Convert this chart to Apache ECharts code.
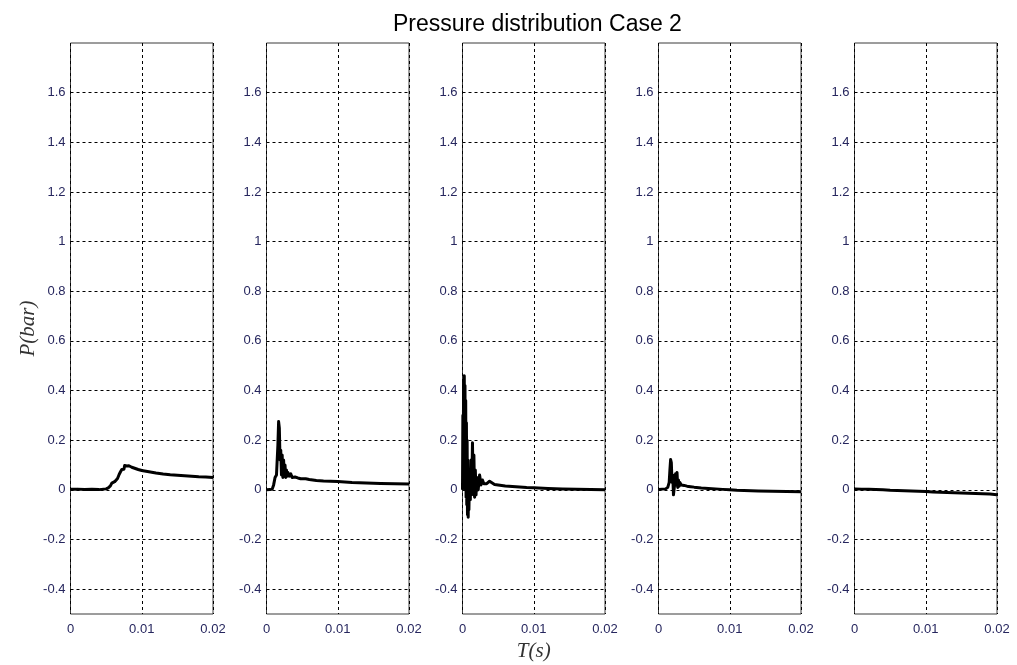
<!DOCTYPE html>
<html>
<head>
<meta charset="utf-8">
<title>Pressure distribution Case 2</title>
<script src="https://cdn.jsdelivr.net/npm/echarts@6/dist/echarts.min.js"></script>
<style>
  html, body { margin: 0; padding: 0; background: #fff; }
  #chart { width: 1017px; height: 665px; }
</style>
</head>
<body>
<div id="chart"></div>
<script>
// Pressure traces P(bar) against time T(s) for five gauges
const yTicks = [-0.4, -0.2, 0, 0.2, 0.4, 0.6, 0.8, 1, 1.2, 1.4, 1.6];
const xTicks = [0, 0.01, 0.02];

const t1 = [0, 0.001, 0.002, 0.003, 0.004, 0.005, 0.0053, 0.0056, 0.0058, 0.006, 0.0062, 0.0064, 0.0066, 0.0068, 0.007, 0.0072, 0.0073, 0.0074, 0.0075, 0.0076, 0.0077, 0.0078, 0.0079, 0.008, 0.0082, 0.0084, 0.0086, 0.0088, 0.009, 0.0095, 0.01, 0.011, 0.012, 0.013, 0.014, 0.015, 0.016, 0.017, 0.018, 0.019, 0.02];
const p1 = [0.002, 0.003, 0.001, 0.002, 0.001, 0.004, 0.008, 0.016, 0.027, 0.031, 0.033, 0.038, 0.046, 0.06, 0.072, 0.082, 0.075, 0.09, 0.083, 0.098, 0.092, 0.104, 0.096, 0.1, 0.097, 0.094, 0.091, 0.089, 0.087, 0.082, 0.078, 0.073, 0.068, 0.064, 0.061, 0.059, 0.057, 0.055, 0.053, 0.052, 0.05];

const t2 = [0, 0.0005, 0.0008, 0.001, 0.0012, 0.0014, 0.0016, 0.0017, 0.0018, 0.0019, 0.002, 0.0021, 0.0022, 0.0023, 0.0024, 0.0025, 0.0026, 0.0027, 0.0028, 0.0029, 0.003, 0.0032, 0.0034, 0.0036, 0.0038, 0.004, 0.0042, 0.0044, 0.0046, 0.0048, 0.005, 0.0055, 0.006, 0.007, 0.008, 0.009, 0.01, 0.011, 0.012, 0.014, 0.016, 0.018, 0.02];
const p2 = [0, 0.001, 0.003, 0.02, 0.05, 0.06, 0.18, 0.275, 0.25, 0.12, 0.16, 0.06, 0.14, 0.05, 0.12, 0.06, 0.1, 0.05, 0.08, 0.055, 0.07, 0.055, 0.065, 0.05, 0.058, 0.052, 0.06, 0.048, 0.055, 0.045, 0.05, 0.045, 0.042, 0.038, 0.036, 0.035, 0.034, 0.032, 0.03, 0.028, 0.026, 0.025, 0.024];

const t3 = [0, 0.00005, 0.0001, 0.00015, 0.0002, 0.00025, 0.0003, 0.00035, 0.0004, 0.00045, 0.0005, 0.00055, 0.0006, 0.00065, 0.0007, 0.00075, 0.0008, 0.00085, 0.0009, 0.001, 0.0011, 0.0012, 0.0013, 0.0014, 0.0015, 0.0016, 0.0017, 0.0018, 0.0019, 0.002, 0.0022, 0.0024, 0.0026, 0.0028, 0.003, 0.0032, 0.0034, 0.0036, 0.0038, 0.004, 0.0045, 0.005, 0.006, 0.007, 0.008, 0.009, 0.01, 0.012, 0.014, 0.016, 0.018, 0.02];
const p3 = [0, 0.3, 0.02, 0.44, 0.04, 0.46, 0.06, 0.42, 0, 0.36, -0.03, 0.27, -0.06, 0.2, -0.1, 0.12, -0.11, 0.06, -0.08, 0.08, -0.04, 0.12, 0, 0.19, -0.02, 0.14, -0.03, 0.08, -0.02, 0.05, 0, 0.06, 0.02, 0.04, 0.025, 0.03, 0.025, 0.028, 0.035, 0.03, 0.022, 0.02, 0.016, 0.014, 0.012, 0.01, 0.009, 0.006, 0.004, 0.002, 0.001, 0];

const t4 = [0, 0.0005, 0.001, 0.0013, 0.0015, 0.0016, 0.0017, 0.0018, 0.0019, 0.002, 0.0021, 0.0022, 0.0023, 0.0024, 0.0025, 0.0026, 0.0027, 0.0028, 0.0029, 0.003, 0.0032, 0.0034, 0.0036, 0.0038, 0.004, 0.0045, 0.005, 0.006, 0.007, 0.008, 0.009, 0.01, 0.011, 0.012, 0.014, 0.016, 0.018, 0.02];
const p4 = [0.002, 0.003, 0.004, 0.01, 0.03, 0.08, 0.122, 0.11, 0.03, 0.06, -0.02, -0.024, 0.03, 0.065, 0.02, 0.07, 0.01, 0.04, 0.015, 0.03, 0.02, 0.025, 0.018, 0.02, 0.015, 0.013, 0.011, 0.008, 0.006, 0.004, 0.002, 0, -0.002, -0.003, -0.005, -0.006, -0.007, -0.008];

const t5 = [0, 0.001, 0.002, 0.003, 0.004, 0.005, 0.006, 0.007, 0.008, 0.009, 0.01, 0.011, 0.012, 0.013, 0.014, 0.015, 0.016, 0.017, 0.018, 0.019, 0.02];
const p5 = [0.004, 0.003, 0.002, 0.001, 0, -0.002, -0.003, -0.004, -0.005, -0.006, -0.007, -0.009, -0.01, -0.011, -0.012, -0.013, -0.014, -0.015, -0.016, -0.017, -0.02];

const times = [t1, t2, t3, t4, t5];
const pressures = [p1, p2, p3, p4, p5];

const labelColor = '#26265e';
const labelFont = 'Liberation Sans, Arial, sans-serif';
const nameFont = 'Liberation Serif, DejaVu Serif, serif';
const gridTop = 43, gridHeight = 571, gridWidth = 142.5, firstLeft = 70.5, step = 196;

const grids = [], xAxes = [], yAxes = [], series = [];
for (let i = 0; i < 5; i++) {
  grids.push({
    left: firstLeft + step * i, top: gridTop, width: gridWidth, height: gridHeight,
    show: true, borderColor: '#3a3a3a', borderWidth: 1, backgroundColor: '#fff',
    containLabel: false, outerBoundsMode: 'none'
  });
  xAxes.push({
    gridIndex: i, type: 'value', min: 0, max: 0.02, interval: 0.01,
    axisLine: { show: false },
    axisTick: { show: false },
    axisLabel: {
      color: labelColor, fontSize: 13, fontFamily: labelFont, margin: 9,
      customValues: xTicks,
      formatter: v => String(+v.toFixed(3))
    },
    splitLine: { show: true, lineStyle: { color: '#000', type: [3, 3], width: 1 } },
    name: i === 2 ? 'T(s)' : '',
    nameLocation: 'middle', nameGap: 24,
    nameTextStyle: { fontFamily: nameFont, fontStyle: 'italic', fontSize: 21, color: '#333' }
  });
  yAxes.push({
    gridIndex: i, type: 'value', min: -0.5, max: 1.8,
    axisLine: { show: false },
    axisTick: { show: false, customValues: yTicks },
    axisLabel: {
      color: labelColor, fontSize: 13, fontFamily: labelFont, margin: 5,
      customValues: yTicks,
      formatter: v => String(+v.toFixed(2))
    },
    splitLine: { show: true, lineStyle: { color: '#000', type: [3, 3], width: 1 } },
    name: i === 0 ? 'P(bar)' : '',
    nameLocation: 'middle', nameGap: 30, nameRotate: 90,
    nameTextStyle: { fontFamily: nameFont, fontStyle: 'italic', fontSize: 21, color: '#333' }
  });
  series.push({
    type: 'line', xAxisIndex: i, yAxisIndex: i,
    data: times[i].map((t, k) => [t, pressures[i][k]]),
    showSymbol: false, symbol: 'none', smooth: false,
    lineStyle: { color: '#000', width: 3, join: 'round' },
    animation: false, z: 5
  });
}

const chart = echarts.init(document.getElementById('chart'), null, { renderer: 'canvas' });
chart.setOption({
  backgroundColor: '#fff',
  animation: false,
  title: {
    text: 'Pressure distribution Case 2',
    left: 388, top: 8,
    textStyle: { fontFamily: labelFont, fontWeight: 'normal', fontSize: 23, color: '#000' }
  },
  grid: grids,
  xAxis: xAxes,
  yAxis: yAxes,
  series: series
});
</script>
</body>
</html>
